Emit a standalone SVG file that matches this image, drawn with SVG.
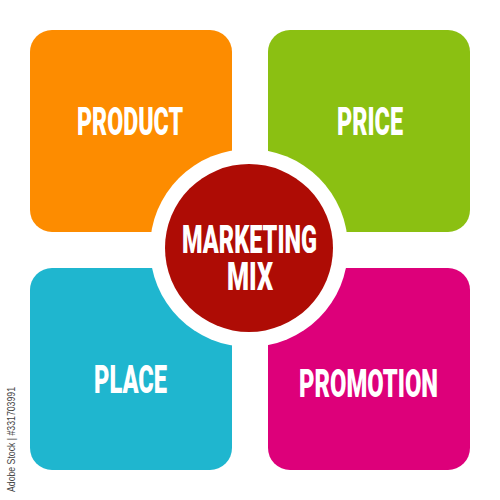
<svg xmlns="http://www.w3.org/2000/svg" width="500" height="500" viewBox="0 0 500 500">
  <style>
    .lbl { font-family: Roboto, "DejaVu Sans", "Liberation Sans", sans-serif; font-weight: 900; font-size: 38px; fill: #ffffff; }
    .wm { font-family: "Liberation Sans", Arial, sans-serif; font-size: 11px; fill: #444444; }
  </style>
  <rect width="500" height="500" fill="#ffffff"/>
  <g id="product">
    <rect x="30" y="30" width="202" height="202" rx="22" fill="#FD8C00"/>
    <text class="lbl" x="77" y="135" textLength="106" lengthAdjust="spacingAndGlyphs">PRODUCT</text>
  </g>
  <g id="price">
    <rect x="268" y="30" width="202" height="202" rx="22" fill="#8BC012"/>
    <text class="lbl" x="337" y="135" textLength="66" lengthAdjust="spacingAndGlyphs">PRICE</text>
  </g>
  <g id="place">
    <rect x="30" y="268" width="202" height="202" rx="22" fill="#1FB6CF"/>
    <text class="lbl" x="94" y="393" textLength="73" lengthAdjust="spacingAndGlyphs">PLACE</text>
  </g>
  <g id="promotion">
    <rect x="268" y="268" width="202" height="202" rx="22" fill="#DD007A"/>
    <text class="lbl" x="299" y="397" textLength="139" lengthAdjust="spacingAndGlyphs">PROMOTION</text>
  </g>
  <g id="connectors"></g>
  <g id="marketing-mix">
    <circle cx="249" cy="248" r="99" fill="#ffffff"/>
    <circle cx="249" cy="248" r="84" fill="#AE0C05"/>
    <text class="lbl" x="182" y="253" textLength="135" lengthAdjust="spacingAndGlyphs">MARKETING</text>
    <text class="lbl" x="227" y="290" textLength="46" lengthAdjust="spacingAndGlyphs">MIX</text>
  </g>
  <text class="wm" transform="translate(15,492) rotate(-90)" textLength="105" lengthAdjust="spacingAndGlyphs">Adobe Stock | #331703991</text>
</svg>
